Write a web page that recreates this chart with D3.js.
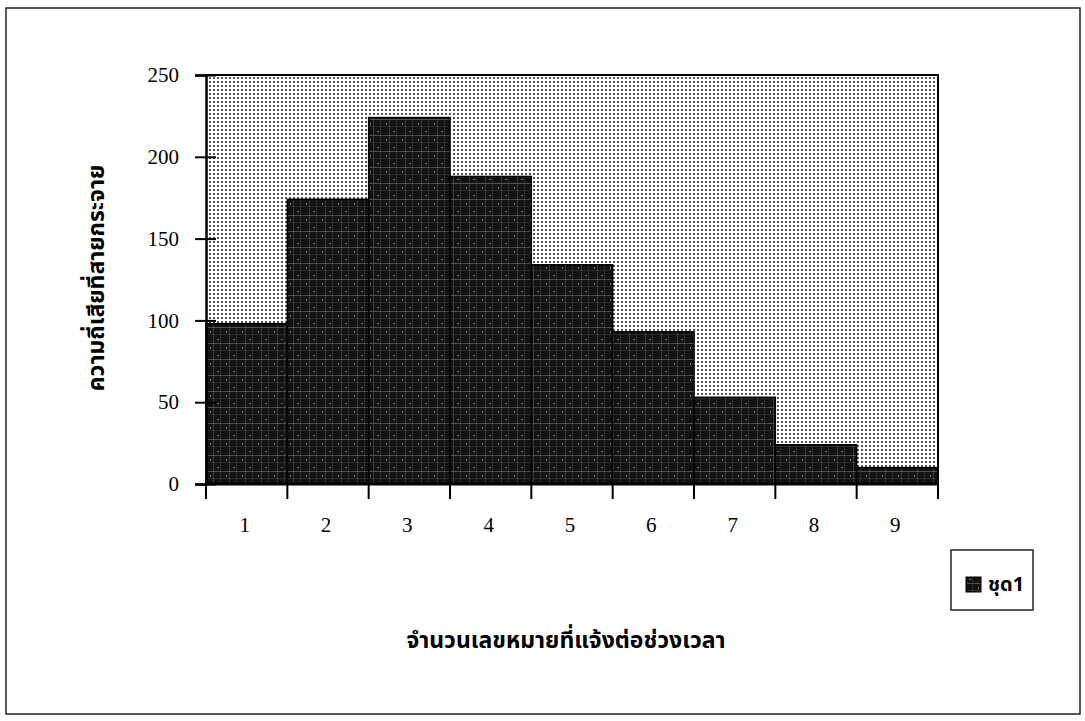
<!DOCTYPE html>
<html>
<head>
<meta charset="utf-8">
<script src="https://cdn.jsdelivr.net/npm/d3@7/dist/d3.min.js"></script>
<style>
  html, body { margin: 0; padding: 0; background: #fff; }
  svg { display: block; }
</style>
</head>
<body>
<svg id="chart" width="1085" height="721"></svg>
<script>
// Calls per interval: number of reported lines (1..9) and how often each occurred
const categories = ["1", "2", "3", "4", "5", "6", "7", "8", "9"];
const series1 = [98, 174, 224, 188, 134, 93, 53, 24, 10];
const yTicks = [0, 50, 100, 150, 200, 250];
const seriesName = "ชุด1";
const xTitle = "จำนวนเลขหมายที่แจ้งต่อช่วงเวลา";
const yTitle = "ความถี่เสียที่สายกระจาย";

const thaiFont = "'Noto Sans Thai', 'Loma', 'Garuda', 'Tlwg Typo', 'Noto Sans', 'DejaVu Sans', sans-serif";
const numFont = "'Liberation Serif', 'DejaVu Serif', serif";

const svg = d3.select("#chart");
const defs = svg.append("defs");

// Light dotted fill for the plot area
const dots = defs.append("pattern").attr("id", "dots")
  .attr("width", 4).attr("height", 4).attr("patternUnits", "userSpaceOnUse");
dots.append("rect").attr("width", 4).attr("height", 4).attr("fill", "#fff");
dots.append("rect").attr("x", 1).attr("y", 1).attr("width", 2).attr("height", 2).attr("fill", "#555");

// Dark textured fill for the bars
const tex = defs.append("pattern").attr("id", "tex")
  .attr("width", 16).attr("height", 16).attr("patternUnits", "userSpaceOnUse");
tex.append("rect").attr("width", 16).attr("height", 16).attr("fill", "#121212");
tex.append("rect").attr("x", 0).attr("y", 7).attr("width", 16).attr("height", 1).attr("fill", "#6a6a6a").attr("opacity", 0.7);
tex.append("rect").attr("x", 5).attr("y", 0).attr("width", 1).attr("height", 16).attr("fill", "#5a5a5a").attr("opacity", 0.6);
tex.append("rect").attr("x", 12).attr("y", 0).attr("width", 1).attr("height", 16).attr("fill", "#444").attr("opacity", 0.5);
tex.append("rect").attr("x", 0).attr("y", 14).attr("width", 16).attr("height", 1).attr("fill", "#444").attr("opacity", 0.5);
tex.append("rect").attr("x", 9).attr("y", 3).attr("width", 2).attr("height", 1).attr("fill", "#777");
tex.append("rect").attr("x", 2).attr("y", 11).attr("width", 1).attr("height", 2).attr("fill", "#777");

// Outer frame of the chart
svg.append("rect")
  .attr("x", 6).attr("y", 8).attr("width", 1074).attr("height", 706)
  .attr("fill", "none").attr("stroke", "#222").attr("stroke-width", 1.5);

const plot = { left: 206, top: 75, right: 938, bottom: 484 };

const x = d3.scaleBand().domain(categories)
  .range([plot.left, plot.right]).paddingInner(0).paddingOuter(0);
const y = d3.scaleLinear().domain([0, 250]).range([plot.bottom, plot.top]);

// Plot area background
svg.append("rect")
  .attr("x", plot.left).attr("y", plot.top)
  .attr("width", plot.right - plot.left).attr("height", plot.bottom - plot.top)
  .attr("fill", "url(#dots)");

// Bars
svg.append("g").selectAll("rect").data(series1).join("rect")
  .attr("x", (d, i) => x(categories[i]))
  .attr("y", d => y(d))
  .attr("width", x.bandwidth())
  .attr("height", d => y(0) - y(d))
  .attr("fill", "url(#tex)")
  .attr("stroke", "#000").attr("stroke-width", 1.5);

// Plot area border (top and right)
svg.append("path")
  .attr("d", `M${plot.left},${plot.top}H${plot.right}V${plot.bottom}`)
  .attr("fill", "none").attr("stroke", "#000").attr("stroke-width", 2);

// Y axis with ticks crossing the axis line
const yAxis = svg.append("g")
  .attr("transform", `translate(${plot.left},0)`)
  .call(d3.axisLeft(y).tickValues(yTicks).tickSize(11).tickPadding(16))
  .call(g => g.select(".domain").attr("stroke", "#000").attr("stroke-width", 2.5));
yAxis.selectAll(".tick line").attr("x1", 10).attr("x2", -11)
  .attr("stroke", "#000").attr("stroke-width", 2);
yAxis.selectAll(".tick text")
  .attr("x", -27).attr("text-anchor", "end")
  .attr("font-family", numFont).attr("font-size", 21).attr("fill", "#000");

// X axis: boundary ticks between categories, labels centred in each band
const xAxisG = svg.append("g").attr("transform", `translate(0,${plot.bottom})`);
xAxisG.append("line")
  .attr("x1", plot.left).attr("x2", plot.right)
  .attr("stroke", "#000").attr("stroke-width", 3);
const boundaries = categories.map(c => x(c)).concat([plot.right]);
xAxisG.selectAll("line.tk").data(boundaries).join("line").attr("class", "tk")
  .attr("x1", d => d).attr("x2", d => d).attr("y1", 0).attr("y2", 15)
  .attr("stroke", "#000").attr("stroke-width", 2);
xAxisG.selectAll("text").data(categories).join("text")
  .attr("x", d => x(d) + x.bandwidth() / 2 - 2)
  .attr("y", 48)
  .attr("text-anchor", "middle")
  .attr("font-family", numFont).attr("font-size", 21).attr("fill", "#000")
  .text(d => d);

// Axis titles
svg.append("text")
  .attr("transform", "translate(104,278) rotate(-90)")
  .attr("text-anchor", "middle")
  .attr("font-family", thaiFont).attr("font-weight", "bold").attr("font-size", 23)
  .attr("fill", "#000")
  .text(yTitle);

svg.append("text")
  .attr("x", 566).attr("y", 648)
  .attr("text-anchor", "middle")
  .attr("font-family", thaiFont).attr("font-weight", "bold").attr("font-size", 23)
  .attr("fill", "#000")
  .text(xTitle);

// Legend
const legend = svg.append("g");
legend.append("rect")
  .attr("x", 951).attr("y", 550).attr("width", 82).attr("height", 60)
  .attr("fill", "#fff").attr("stroke", "#222").attr("stroke-width", 1.5);
legend.append("rect")
  .attr("x", 966).attr("y", 577).attr("width", 15).attr("height", 15)
  .attr("fill", "url(#tex)").attr("stroke", "#000").attr("stroke-width", 1);
legend.append("text")
  .attr("x", 988).attr("y", 591)
  .attr("font-family", thaiFont).attr("font-weight", "bold").attr("font-size", 20)
  .attr("fill", "#000")
  .text(seriesName);
</script>
</body>
</html>
